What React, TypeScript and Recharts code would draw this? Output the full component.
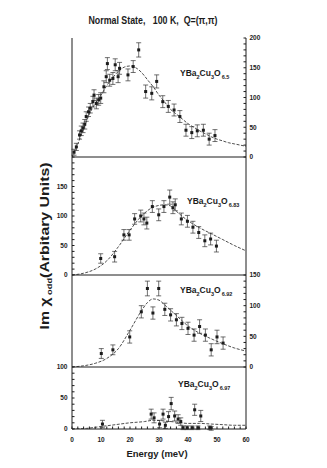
import { ComposedChart, ErrorBar, Line, Scatter, XAxis, YAxis } from "recharts";

const NARROW = "'Liberation Sans Narrow', 'Arial Narrow', 'Liberation Sans', sans-serif";
const SANS = "'Liberation Sans', Arial, sans-serif";
const INK = "#1c1c1c";

// energy axis (meV), minor ticks every 2
const ENERGY_TICKS = [0, 2, 4, 6, 8, 10, 12, 14, 16, 18, 20, 22, 24, 26, 28, 30, 32, 34, 36, 38, 40, 42, 44, 46, 48, 50, 52, 54, 56, 58, 60];
const Y_TICKS_200 = [0, 10, 20, 30, 40, 50, 60, 70, 80, 90, 100, 110, 120, 130, 140, 150, 160, 170, 180, 190, 200];
const Y_TICKS_150 = [0, 10, 20, 30, 40, 50, 60, 70, 80, 90, 100, 110, 120, 130, 140, 150];
const Y_TICKS_100 = [0, 10, 20, 30, 40, 50, 60, 70, 80, 90, 100];

// [energy, Im chi, error]
const O65_POINTS = [
  [0.7, 8, 5], [1.5, 17, 6], [2.6, 37, 7], [3.2, 44, 8], [3.8, 49, 8], [4.4, 55, 8], [4.9, 68, 8],
  [5.7, 76, 8], [6.3, 82, 8], [7.2, 93, 9], [7.6, 104, 9], [8.4, 90, 9], [9.2, 96, 9], [9.9, 99, 9],
  [11, 118, 10], [11.8, 135, 10], [12.2, 157, 10], [13, 129, 10], [14.1, 132, 10], [14.9, 155, 10],
  [15.9, 135, 10], [16.4, 149, 10], [19.3, 138, 10], [21.1, 152, 10], [23, 180, 12], [25.4, 110, 11],
  [27.5, 107, 11], [29.2, 127, 11], [31.3, 93, 10], [33.2, 85, 10], [35.2, 79, 10], [37.2, 68, 10],
  [39.3, 45, 10], [41.3, 41, 10], [43.2, 44, 10], [45.3, 45, 10], [47.3, 30, 10], [49.3, 36, 10],
];
const O65_FIT = [
  [0, 0], [2, 22], [4, 47], [6, 72], [8, 90], [10, 104], [12, 120], [14, 133], [16, 144], [18, 151],
  [20, 153], [22, 150], [24, 142], [26, 130], [28, 118], [30, 104], [32, 92], [34, 80], [36, 72],
  [38, 64], [40, 56], [42, 50], [44, 44], [46, 39], [48, 34], [50, 30], [52, 27], [54, 24], [56, 22],
  [58, 20], [60, 18],
];

const O683_POINTS = [
  [9.9, 28, 8], [14.7, 31, 9], [17.9, 68, 9], [19.7, 68, 9], [21.6, 95, 9], [23.7, 100, 10],
  [24.8, 95, 10], [25.8, 88, 10], [27.7, 116, 10], [29.9, 102, 10], [31.7, 116, 10], [33.7, 132, 12],
  [34.8, 114, 10], [35.6, 119, 10], [37.7, 95, 10], [39.8, 91, 10], [41.7, 81, 10], [43.7, 72, 10],
  [45.8, 58, 10], [47.8, 61, 10], [49.8, 49, 10],
];
const O683_FIT = [
  [0, 0], [4, 3], [8, 10], [12, 24], [16, 48], [20, 76], [24, 100], [28, 115], [32, 119], [34, 117],
  [36, 108], [40, 92], [44, 80], [48, 70], [52, 60], [56, 50], [60, 41],
];

const O692_POINTS = [
  [10.1, 22, 8], [14.1, 28, 8], [19.9, 49, 10], [23.9, 90, 10], [26, 128, 12], [27.9, 88, 10],
  [29.9, 128, 12], [32, 94, 10], [34, 85, 10], [36, 77, 10], [37.9, 71, 10], [40, 63, 10],
  [42.1, 52, 10], [44, 66, 11], [46, 52, 10], [48, 28, 10], [50, 49, 11], [52.1, 39, 10],
];
const O692_FIT = [
  [0, 0], [4, 2], [8, 6], [12, 14], [16, 30], [20, 60], [24, 92], [26, 105], [28, 111], [30, 109],
  [32, 101], [36, 84], [40, 67], [44, 55], [48, 46], [52, 38], [56, 31], [60, 26],
];

const O697_POINTS = [
  [10.5, 8, 6], [27.3, 24, 8], [28.3, 18, 8], [30.2, 8, 6], [31.4, 24, 8], [32.2, 6, 5], [33.3, 20, 8],
  [34.2, 41, 10], [35.4, 21, 8], [36.6, 16, 7], [37.5, 12, 6], [38.3, 2, 3], [39.7, 2, 3], [41.4, 2, 3],
  [42.3, 31, 9], [43.4, 2, 3], [44.4, 21, 9], [47.5, 2, 3], [48, 1, 3],
];
const O697_FIT = [
  [0, 0], [5, 1], [10, 4], [15, 7], [20, 10], [25, 12], [28, 14], [32, 13], [36, 11], [40, 9],
  [44, 9], [48, 8], [52, 7], [56, 6], [60, 6],
];

const tickFont = { fontSize: 6.5, fontWeight: "bold", fill: INK, stroke: "none", fontFamily: NARROW };
const PAD = 6;

function Marker(p: any) {
  if (p.cx == null || p.cy == null) return <g />;
  return <rect x={p.cx - 1.5} y={p.cy - 1.5} width={3} height={3} fill={INK} />;
}

type PanelProps = {
  top: number;
  height: number;
  yMax: number;
  yTicks: number[];
  side: "left" | "right";
  points: number[][];
  fit: number[][];
  showX?: boolean;
};

function Panel({ top, height, yMax, yTicks, side, points, fit, showX }: PanelProps) {
  const xh = showX ? 18 : 1;
  const pts = points.map(([e, v, err]) => ({ e, v, err }));
  const curve = fit.map(([e, v]) => ({ e, v }));
  const yLabel = (v: number) => (v % 50 === 0 && v < 200 ? String(v) : "");
  const yLabelTop = (v: number) => (v % 50 === 0 ? String(v) : "");
  return (
    <div style={{ position: "absolute", left: 0, top: top - PAD }}>
      <ComposedChart width={327} height={height + PAD * 2 + xh} margin={{ top: PAD, right: 61, bottom: PAD, left: 52 }}>
        <XAxis
          xAxisId="b"
          type="number"
          dataKey="e"
          domain={[0, 60]}
          ticks={ENERGY_TICKS}
          interval={0}
          allowDataOverflow
          height={xh}
          stroke={INK}
          tickSize={-2.5}
          tickMargin={showX ? 11 : 0}
          tick={showX ? tickFont : false}
          tickFormatter={(v: number) => (v % 10 === 0 ? String(v) : "")}
        />
        <XAxis
          xAxisId="t"
          orientation="top"
          type="number"
          dataKey="e"
          domain={[0, 60]}
          ticks={ENERGY_TICKS}
          interval={0}
          allowDataOverflow
          height={0}
          stroke={INK}
          tickSize={-2.5}
          tick={false}
        />
        <YAxis
          yAxisId="l"
          type="number"
          domain={[0, yMax]}
          ticks={yTicks}
          interval={0}
          allowDataOverflow
          width={20}
          stroke={INK}
          tickSize={-2.5}
          tickMargin={side === "left" ? 7 : 0}
          tick={side === "left" ? tickFont : false}
          tickFormatter={yLabel}
        />
        <YAxis
          yAxisId="r"
          orientation="right"
          type="number"
          domain={[0, yMax]}
          ticks={yTicks}
          interval={0}
          allowDataOverflow
          width={20}
          stroke={INK}
          tickSize={-2.5}
          tickMargin={side === "right" ? 6 : 0}
          tick={side === "right" ? tickFont : false}
          tickFormatter={yLabelTop}
        />
        <Line
          xAxisId="b"
          yAxisId="l"
          data={curve}
          dataKey="v"
          type="monotone"
          dot={false}
          stroke="#3a3a3a"
          strokeWidth={0.9}
          strokeDasharray="3 1.5"
          isAnimationActive={false}
        />
        <Scatter xAxisId="b" yAxisId="l" data={pts} dataKey="v" shape={Marker} isAnimationActive={false}>
          <ErrorBar dataKey="err" direction="y" width={2.5} stroke="#333" strokeWidth={0.7} />
        </Scatter>
      </ComposedChart>
    </div>
  );
}

function Formula({ x, y, sub }: { x: number; y: number; sub: string }) {
  return (
    <text x={x} y={y} fontFamily={NARROW} fontWeight="bold" fontSize={8.5} fill={INK}>
      YBa<tspan dy={3} fontSize={5.5}>2</tspan>
      <tspan dy={-3}>Cu</tspan>
      <tspan dy={3} fontSize={5.5}>3</tspan>
      <tspan dy={-3}>O</tspan>
      <tspan dy={3} dx={1} fontSize={5.5}>{sub}</tspan>
    </text>
  );
}

export default function App() {
  return (
    <div style={{ position: "absolute", left: 0, top: 0, width: 327, height: 468, background: "#fff", overflow: "hidden" }}>
      <Panel top={38} height={119} yMax={200} yTicks={Y_TICKS_200} side="right" points={O65_POINTS} fit={O65_FIT} />
      <Panel top={157} height={118} yMax={200} yTicks={Y_TICKS_200} side="left" points={O683_POINTS} fit={O683_FIT} />
      <Panel top={275} height={92} yMax={150} yTicks={Y_TICKS_150} side="right" points={O692_POINTS} fit={O692_FIT} />
      <Panel top={367} height={62} yMax={100} yTicks={Y_TICKS_100} side="left" points={O697_POINTS} fit={O697_FIT} showX />
      <svg width={327} height={468} style={{ position: "absolute", left: 0, top: 0, pointerEvents: "none" }}>
        <text x={153} y={24} textAnchor="middle" fontFamily={NARROW} fontWeight="bold" fontSize={11.5} fill={INK}
          textLength={129} lengthAdjust="spacingAndGlyphs" style={{ whiteSpace: "pre" }}>
          {"Normal State,   100 K,  Q=(\u03c0,\u03c0)"}
        </text>
        <text transform="translate(49,246) rotate(-90)" textAnchor="middle" fontFamily={SANS} fontWeight="bold"
          fontSize={12} fill={INK} textLength={167} lengthAdjust="spacingAndGlyphs">
          {"Im \u03c7"}
          <tspan dy={3} fontSize={7}>{" odd"}</tspan>
          <tspan dy={-3}>(Arbitary Units)</tspan>
        </text>
        <text x={157} y={457} textAnchor="middle" fontFamily={NARROW} fontWeight="bold" fontSize={9.5} fill={INK}>
          Energy (meV)
        </text>
        <Formula x={180} y={76} sub="6.5" />
        <Formula x={187} y={204} sub="6.83" />
        <Formula x={180} y={293} sub="6.92" />
        <Formula x={178} y={387} sub="6.97" />
      </svg>
    </div>
  );
}
